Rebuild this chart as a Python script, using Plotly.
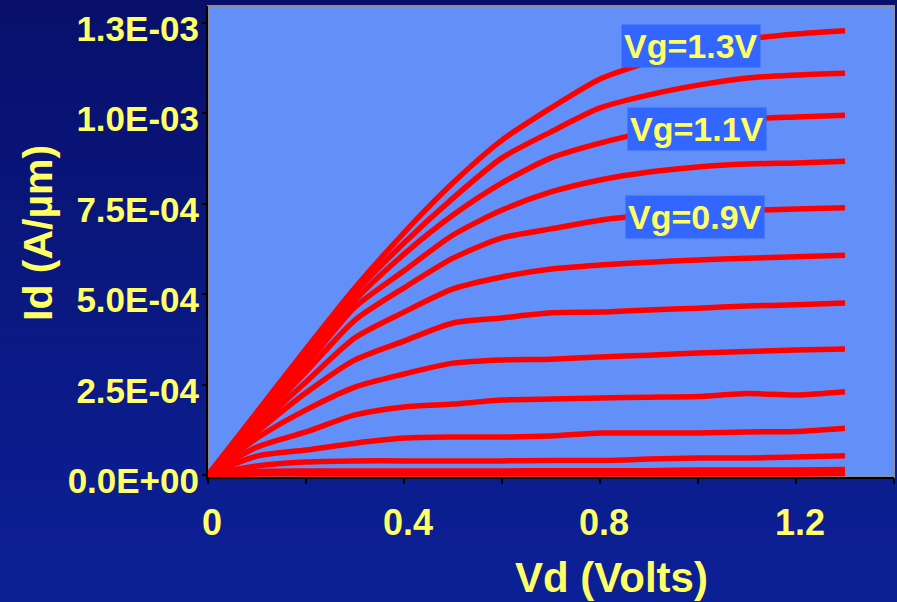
import plotly.graph_objects as go

# ---------------- data ----------------
vd = [0.0, 0.1, 0.2, 0.3, 0.4, 0.5, 0.6, 0.7, 0.8, 0.9, 1.0, 1.1, 1.2, 1.3]
SCALE = 1e-4  # values below are in units of 1e-4 A/um

id_vg13 = [0, 1.74, 3.48, 5.17, 6.69, 8.07, 9.25, 10.14, 10.94, 11.41, 11.80, 12.04, 12.18, 12.27]
id_vg12 = [0, 1.69, 3.34, 5.03, 6.41, 7.65, 8.76, 9.48, 10.14, 10.50, 10.77, 10.97, 11.05, 11.10]
id_vg11 = [0, 1.60, 3.18, 4.83, 6.10, 7.18, 8.07, 8.76, 9.17, 9.48, 9.67, 9.83, 9.89, 9.94]
id_vg10 = [0, 1.52, 3.04, 4.64, 5.64, 6.63, 7.32, 7.82, 8.15, 8.37, 8.51, 8.59, 8.62, 8.67]
id_vg09 = [0, 1.44, 2.85, 4.28, 5.17, 5.99, 6.55, 6.80, 7.04, 7.18, 7.27, 7.31, 7.35, 7.38]
id_vg08 = [0, 1.33, 2.57, 3.79, 4.50, 5.14, 5.47, 5.69, 5.80, 5.88, 5.94, 5.99, 6.03, 6.07]
id_vg07 = [0, 1.19, 2.27, 3.18, 3.70, 4.20, 4.34, 4.48, 4.50, 4.56, 4.61, 4.67, 4.70, 4.75]
id_vg06 = [0, 1.02, 1.80, 2.43, 2.79, 3.09, 3.18, 3.20, 3.26, 3.31, 3.37, 3.41, 3.45, 3.48]
id_vg05 = [0, 0.77, 1.19, 1.66, 1.88, 1.96, 2.07, 2.10, 2.13, 2.15, 2.17, 2.25, 2.21, 2.30]
id_vg04 = [0, 0.52, 0.69, 0.88, 1.02, 1.05, 1.05, 1.08, 1.16, 1.16, 1.16, 1.19, 1.20, 1.29]
id_vg03 = [0, 0.25, 0.36, 0.39, 0.39, 0.39, 0.39, 0.40, 0.40, 0.44, 0.47, 0.47, 0.50, 0.53]
id_vg02 = [0, 0.10, 0.11, 0.11, 0.11, 0.11, 0.11, 0.12, 0.12, 0.12, 0.14, 0.14, 0.14, 0.15]
id_vg01 = [0, 0.03, 0.03, 0.03, 0.03, 0.03, 0.03, 0.03, 0.03, 0.03, 0.03, 0.03, 0.03, 0.04]

series = [
    ("Vg=0.1V", id_vg01), ("Vg=0.2V", id_vg02), ("Vg=0.3V", id_vg03),
    ("Vg=0.4V", id_vg04), ("Vg=0.5V", id_vg05), ("Vg=0.6V", id_vg06),
    ("Vg=0.7V", id_vg07), ("Vg=0.8V", id_vg08), ("Vg=0.9V", id_vg09),
    ("Vg=1.0V", id_vg10), ("Vg=1.1V", id_vg11), ("Vg=1.2V", id_vg12),
    ("Vg=1.3V", id_vg13),
]

y_tickvals = [0, 2.5e-4, 5.0e-4, 7.5e-4, 1.0e-3, 1.25e-3]
y_ticktext = ["0.0E+00", "2.5E-04", "5.0E-04", "7.5E-04", "1.0E-03", "1.3E-03"]
x_tickvals = [0, 0.2, 0.4, 0.6, 0.8, 1.0, 1.2, 1.4]
x_ticktext = ["0", "", "0.4", "", "0.8", "", "1.2", ""]

labelled = [("Vg=1.3V", 0.985, 1.185e-3), ("Vg=1.1V", 0.997, 0.956e-3), ("Vg=0.9V", 0.993, 0.7127e-3)]

# ---------------- style ----------------
W, H = 897, 602
ML, MR, MT, MB = 208, 3, 6, 125
PW, PH = W - ML - MR, H - MT - MB
YELLOW = "#FFFF66"
PLOT_BG = "#6290F8"
FONT = "Liberation Sans"

fig = go.Figure()
for name, vals in series:
    fig.add_trace(go.Scatter(
        x=vd, y=[v * SCALE for v in vals], mode="lines", name=name,
        line=dict(color="#FF0000", width=5.5, shape="spline", smoothing=0.7),
        showlegend=False,
    ))

# slide background gradient (paper coords relative to plot domain)
px0, px1 = -ML / PW, 1 + MR / PW
py0, py1 = -MB / PH, 1 + MT / PH
shapes = []
NB = 30
top_c = (8, 16, 108)
bot_c = (12, 32, 150)
for i in range(NB):
    t = i / (NB - 1)
    c = tuple(round(top_c[k] + (bot_c[k] - top_c[k]) * t) for k in range(3))
    ya = py1 - (py1 - py0) * i / NB
    yb = py1 - (py1 - py0) * (i + 1) / NB
    shapes.append(dict(type="rect", xref="paper", yref="paper", x0=px0, x1=px1,
                       y0=yb - 0.002, y1=ya, fillcolor="rgb(%d,%d,%d)" % c,
                       line=dict(width=0), layer="below"))
shapes.append(dict(type="rect", xref="paper", yref="paper", x0=0, x1=1, y0=0, y1=1,
                   fillcolor=PLOT_BG, line=dict(color="#8C8C9C", width=2), layer="below"))

annotations = []
for text, ax_, ay_ in labelled:
    annotations.append(dict(x=ax_, y=ay_, xref="x", yref="y", text=text, showarrow=False,
                            bgcolor="#3366FF", borderpad=2,
                            font=dict(family=FONT, size=34, color=YELLOW, weight="bold"),
                            xanchor="center", yanchor="middle"))
annotations.append(dict(x=(611.5 - ML) / PW, y=(H - MB - 577) / PH, xref="paper", yref="paper",
                        text="Vd (Volts)", showarrow=False, xanchor="center", yanchor="middle",
                        font=dict(family=FONT, size=42, color=YELLOW, weight="bold")))
annotations.append(dict(x=(38 - ML) / PW, y=(H - MB - 233) / PH, xref="paper", yref="paper",
                        text="Id (A/µm)", showarrow=False, textangle=-90,
                        xanchor="center", yanchor="middle",
                        font=dict(family=FONT, size=41, color=YELLOW, weight="bold")))

fig.update_layout(
    width=W, height=H,
    margin=dict(l=ML, r=MR, t=MT, b=MB, pad=0),
    paper_bgcolor="#0A1A88", plot_bgcolor=PLOT_BG,
    shapes=shapes, annotations=annotations,
    font=dict(family=FONT, color=YELLOW, weight="bold"),
    xaxis=dict(range=[0, 1.4], tickvals=x_tickvals, ticktext=x_ticktext,
               showgrid=False, zeroline=False, showline=True, linecolor="black", linewidth=2,
               ticks="outside", ticklen=5, tickwidth=1.5, tickcolor="black",
               tickfont=dict(family=FONT, size=36, color=YELLOW, weight="bold"),
               ticklabelshift=4, ticklabelstandoff=8),
    yaxis=dict(range=[-5.5e-6, 1.2956e-3], tickvals=y_tickvals, ticktext=y_ticktext,
               showgrid=False, zeroline=False, showline=True, linecolor="black", linewidth=2,
               ticks="outside", ticklen=4, tickwidth=1.5, tickcolor="black",
               tickfont=dict(family=FONT, size=35, color=YELLOW, weight="bold"),
               ticklabelshift=6, ticklabelstandoff=-4, ticklabeloverflow="allow"),
)

fig.write_html("out.html")
